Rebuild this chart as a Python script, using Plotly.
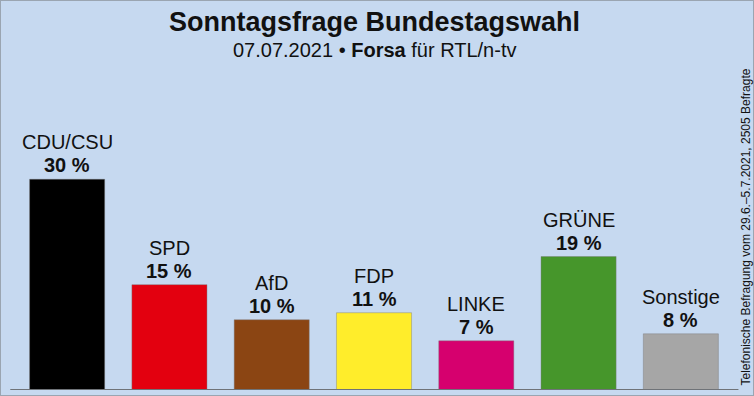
import plotly.graph_objects as go

parties = ["CDU/CSU", "SPD", "AfD", "FDP", "LINKE", "GRÜNE", "Sonstige"]
values = [30, 15, 10, 11, 7, 19, 8]
colors = ["#000000", "#e3000f", "#8b4513", "#ffed2b", "#d6006e", "#46962b", "#a6a6a6"]
value_labels = [f"{v} %" for v in values]

W, H = 754, 396
ml, mr, mt, mb = 16, 22, 109, 6

fig = go.Figure()
fig.add_trace(go.Bar(
    x=parties, y=values,
    marker=dict(color=colors, line=dict(color="rgba(120,120,120,0.4)", width=1)),
    hoverinfo="skip",
))

annotations = []
for p, v, lab in zip(parties, values, value_labels):
    annotations.append(dict(x=p, y=v, xref="x", yref="y", text=f"<b>{lab}</b>",
                            showarrow=False, yanchor="bottom", yshift=1,
                            font=dict(family="Liberation Sans", size=20, color="#111")))
    annotations.append(dict(x=p, y=v, xref="x", yref="y", text=p,
                            showarrow=False, yanchor="bottom", yshift=24,
                            font=dict(family="Liberation Sans", size=20, color="#111")))

annotations.append(dict(x=0.5, y=1, xref="paper", yref="paper", yshift=109 - 22,
                        text="<b>Sonntagsfrage Bundestagswahl</b>", showarrow=False,
                        yanchor="middle", xanchor="center",
                        font=dict(family="Liberation Sans", size=27, color="#111")))
annotations.append(dict(x=0.5, y=1, xref="paper", yref="paper", yshift=109 - 50,
                        text="07.07.2021 • <b>Forsa</b> für RTL/n-tv", showarrow=False,
                        yanchor="middle", xanchor="center",
                        font=dict(family="Liberation Sans", size=20, color="#111")))
annotations.append(dict(x=1, y=0, xref="paper", yref="paper", xshift=22 - 9,
                        text="Telefonische Befragung vom 29.6.–5.7.2021, 2505 Befragte",
                        showarrow=False, textangle=-90, xanchor="center", yanchor="bottom",
                        yshift=2,
                        font=dict(family="Liberation Sans", size=12, color="#111")))

fig.update_layout(
    width=W, height=H,
    margin=dict(l=ml, r=mr, t=mt, b=mb, pad=0),
    paper_bgcolor="#c6d9f0", plot_bgcolor="#c6d9f0",
    bargap=0.266, showlegend=False,
    xaxis=dict(visible=False),
    yaxis=dict(visible=False, range=[0, 40]),
    annotations=annotations,
    shapes=[
        dict(type="line", xref="paper", yref="y", x0=-0.008, x1=1.009, y0=0, y1=0,
             line=dict(color="#6f7378", width=2)),
        dict(type="rect", xref="paper", yref="paper", x0=-ml / (W - ml - mr), x1=1 + mr / (W - ml - mr),
             y0=-mb / (H - mt - mb), y1=1 + mt / (H - mt - mb),
             line=dict(color="#9aa5b1", width=2), fillcolor="rgba(0,0,0,0)"),
    ],
)

fig.write_html("out.html", config={"displayModeBar": False},
               post_script="document.body.style.margin='0';")
